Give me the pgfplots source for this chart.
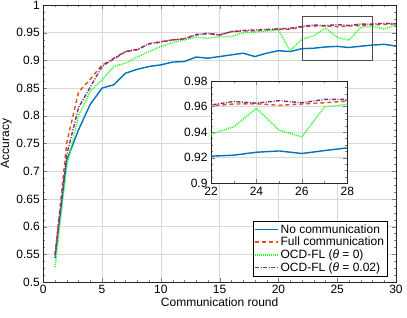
\documentclass[border=0pt]{standalone}
\usepackage{pgfplots}
\pgfplotsset{compat=1.18}
\usepackage{pgfplotstable}
\usepackage{fontspec}
\setmainfont{Liberation Sans}
\definecolor{mblue}{rgb}{0,0.447,0.741}
\definecolor{morange}{rgb}{0.85,0.325,0.098}
\definecolor{mgreen}{rgb}{0.1,1,0.1}
\definecolor{mpurple}{rgb}{0.494,0.184,0.556}
\pgfplotstableread{
x nocomm full ocdz ocdp
1 0.543 0.548 0.527 0.550
2 0.720 0.752 0.710 0.730
3 0.775 0.843 0.800 0.815
4 0.821 0.866 0.845 0.852
5 0.850 0.892 0.865 0.889
6 0.856 0.902 0.889 0.904
7 0.877 0.916 0.895 0.916
8 0.884 0.919 0.906 0.920
9 0.889 0.930 0.916 0.930
10 0.892 0.934 0.925 0.933
11 0.897 0.937 0.932 0.937
12 0.898 0.939 0.937 0.939
13 0.906 0.947 0.942 0.946
14 0.904 0.948 0.940 0.949
15 0.907 0.946 0.943 0.946
16 0.910 0.952 0.943 0.952
17 0.913 0.953 0.950 0.954
18 0.907 0.953 0.951 0.955
19 0.913 0.955 0.953 0.956
20 0.9175 0.956 0.955 0.957
21 0.916 0.956 0.9175 0.958
22 0.9212 0.9606 0.9384 0.9612
23 0.9220 0.9620 0.9442 0.9640
24 0.9243 0.9622 0.9586 0.9627
25 0.9253 0.9610 0.9416 0.9646
26 0.9233 0.9620 0.9363 0.9630
27 0.9256 0.9630 0.9599 0.9656
28 0.9277 0.9643 0.9617 0.9656
29 0.9290 0.9650 0.9567 0.9670
30 0.9260 0.9660 0.9640 0.9660
}\datatable
\pgfplotsset{
  every axis/.append style={
    scale only axis,
    font=\fontsize{12}{14}\selectfont,
    /pgf/number format/assume math mode=true,
    /pgf/number format/.cd, fixed, precision=2, /pgfplots/.cd,
    axis line style={black!85},
    major tick length=4pt,
    minor tick length=2pt,
    grid=major,
    major grid style={black!15, line width=0.6pt},
    tick align=inside,
    tick pos=both,
  },
}
\begin{document}
\begin{tikzpicture}
\path[use as bounding box] (-43.3pt,-35pt) rectangle (363.7pt,282pt);
\begin{axis}[
  name=main,
  at={(0pt,0pt)}, anchor=south west,
  width=352.7pt, height=277pt,
  xmin=0, xmax=30, ymin=0.5, ymax=1,
  xtick={0,5,...,30},
  ytick={0.5,0.55,...,1.001},
  minor x tick num=4,
  minor y tick num=3,
  xlabel={Communication round},
  ylabel={Accuracy},
  xlabel style={yshift=3pt},
  ylabel style={yshift=-2pt},
  legend style={at={(0.975,0.022)}, anchor=south east,
    font=\fontsize{12}{14}\selectfont, inner sep=1pt, row sep=-1.5pt},
  legend cell align=left,
  legend image code/.code={\draw[#1,line width=1.5pt] (0cm,0cm) -- (0.8cm,0cm);},
]
\addplot[color=mblue, line width=1.4pt, solid] table[x=x,y=nocomm] {\datatable};
\addlegendentry{No communication}
\addplot[color=morange, line width=1.4pt, dash pattern=on 4pt off 3pt] table[x=x,y=full] {\datatable};
\addlegendentry{Full communication}
\addplot[color=mgreen, line width=1.4pt, dash pattern=on 1pt off 1pt] table[x=x,y=ocdz] {\datatable};
\addlegendentry{OCD-FL (\textit{θ} = 0)}
\addplot[color=mpurple, line width=1.4pt, dash pattern=on 4pt off 1.5pt on 1pt off 1.5pt] table[x=x,y=ocdp] {\datatable};
\addlegendentry{OCD-FL (\textit{θ} = 0.02)}
\draw[black!70, line width=0.5pt] (axis cs:22,0.9) rectangle (axis cs:28,0.98);
\end{axis}
\begin{axis}[
  at={(167.7pt,98.7pt)}, anchor=south west,
  width=136.3pt, height=102.3pt,
  xmin=22, xmax=28, ymin=0.9, ymax=0.98,
  xtick={22,24,26,28},
  ytick={0.9,0.92,0.94,0.96,0.98},
  minor x tick num=1,
  minor y tick num=3,
  axis background/.style={fill=white},
]
\addplot[color=mblue, line width=1.4pt, solid] table[x=x,y=nocomm] {\datatable};
\addplot[color=morange, line width=1.4pt, dash pattern=on 4pt off 3pt] table[x=x,y=full] {\datatable};
\addplot[color=mgreen, line width=1.4pt, dash pattern=on 1pt off 1pt] table[x=x,y=ocdz] {\datatable};
\addplot[color=mpurple, line width=1.4pt, dash pattern=on 4pt off 1.5pt on 1pt off 1.5pt] table[x=x,y=ocdp] {\datatable};
\end{axis}
\end{tikzpicture}
\end{document}
